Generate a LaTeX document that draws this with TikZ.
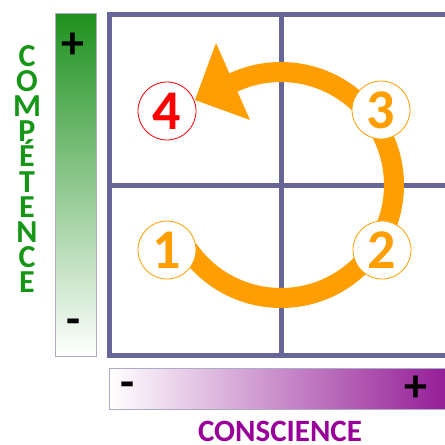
\documentclass[tikz,border=0pt]{standalone}
\usepackage{fontspec}
\setmainfont{Carlito}
\usepackage{xcolor}
\usepackage{tikz}

\definecolor{gridblue}{RGB}{102,102,153}
\definecolor{cycleorange}{RGB}{255,158,0}
\definecolor{compgreen}{RGB}{22,150,22}
\definecolor{bargreen}{RGB}{30,145,30}
\definecolor{barviolet}{RGB}{148,28,150}
\definecolor{consviolet}{RGB}{153,0,153}

\begin{document}
\begin{tikzpicture}[x=1pt,y=-1pt,
    stagecircle/.style={circle, draw=cycleorange, fill=white, line width=0.8pt, minimum size=58pt, inner sep=0pt, text=cycleorange, font=\bfseries\fontsize{56}{56}\selectfont},
    barsign/.style={font=\bfseries\fontsize{46}{46}\selectfont, inner sep=0pt},
    completter/.style={text=compgreen, font=\bfseries\fontsize{32}{32}\selectfont, anchor=base, inner sep=0pt, text height=20pt, text depth=0pt}]

\clip (0,0) rectangle (445,445);
\useasboundingbox (0,0) rectangle (445,445);

% scales
\shade[top color=bargreen, middle color=bargreen!28, bottom color=white] (55,13) rectangle (96,356);
\draw[gridblue!55, line width=0.8pt] (55,13) rectangle (96,356);
\shade[left color=white, middle color=barviolet!32, right color=barviolet] (109,368) rectangle (448,409);
\draw[gridblue!55, line width=0.8pt] (109,368) rectangle (448,409);

\node[barsign] (plusv) at (73,46) {+};
\node[barsign] (minusv) at (74,327) {-};
\node[barsign] (minush) at (128,390) {-};
\node[barsign] (plush) at (416,389) {+};

% axis titles
\foreach \ch [count=\i] in {C,O,M,P,É,T,E,N,C,E}
    \node[completter] (comp\i) at (27,{66+25.2*(\i-1)}) {\ch};
\node[text=consviolet, font=\bfseries\fontsize{31}{31}\selectfont, anchor=base, inner sep=0pt, text depth=0pt] (constext) at (280,441) {CONSCIENCE};

% grid
\draw[gridblue, line width=5pt] (109,14.5) rectangle (450,355);
\draw[gridblue, line width=5pt] (281,14.5) -- (281,355);
\draw[gridblue, line width=5pt] (109,185) -- (450,185);

% cycle
\coordinate (mid) at (281,185);
\draw[cycleorange, line width=20pt] (mid) ++(145:113) arc (145:-115:113);
\fill[cycleorange] (216,43) -- (195,100) -- (250,120) -- cycle;

\node[stagecircle] (one) at (167,250) {1};
\node[stagecircle] (two) at (382,250) {2};
\node[stagecircle] (three) at (381,110) {3};
\node[stagecircle, draw=red, text=red] (four) at (167,111) {4};

\end{tikzpicture}
\end{document}
